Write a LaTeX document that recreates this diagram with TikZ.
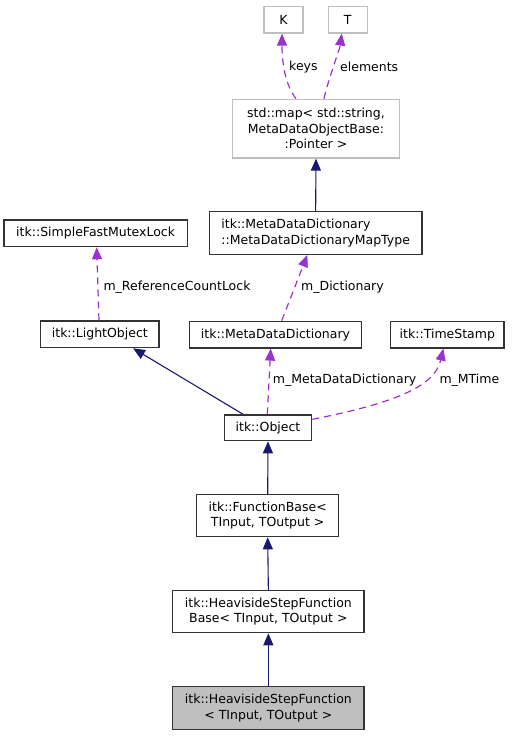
\documentclass[tikz,border=0pt]{standalone}
\usepackage{fontspec}
\setmainfont{DejaVu Sans}
\usetikzlibrary{arrows.meta}
\definecolor{midblue}{RGB}{25,25,112}
\definecolor{orchid}{RGB}{154,50,205}
\definecolor{gborder}{RGB}{191,191,191}
\begin{document}
\begin{tikzpicture}[x=1pt,y=-1pt,
  every node/.style={font=\fontsize{12.5}{15.5}\selectfont, inner sep=0pt},
  cls/.style={draw=black!80, line width=1.2pt, fill=white, align=center},
  ext/.style={draw=gborder, line width=1.2pt, fill=white, align=center},
  inh/.style={draw=midblue, line width=1.1pt, -{Triangle[length=12pt,width=10pt]}},
  use/.style={draw=orchid, line width=1.2pt, dash pattern=on 7pt off 5pt, -{Triangle[length=12pt,width=10pt]}},
  lbl/.style={anchor=west}]
\useasboundingbox (0,0) rectangle (515,736);
% nodes
\node[ext, minimum width=39pt, minimum height=26.5pt] (K) at (283.5,19.75) {K};
\node[ext, minimum width=39pt, minimum height=26.5pt] (T) at (347.8,19.75) {T};
\node[ext, minimum width=166.6pt, minimum height=58.7pt] (map) at (316,128.65) {std::map< std::string,\\ MetaDataObjectBase:\\:Pointer >};
\node[cls, align=left, minimum width=212.7pt, minimum height=42.6pt] (maptype) at (315.65,233) {itk::MetaDataDictionary\\::MetaDataDictionaryMapType};
\node[cls, minimum width=183.3pt, minimum height=26.7pt] (sfml) at (95.65,233.35) {itk::SimpleFastMutexLock};
\node[cls, minimum width=118.3pt, minimum height=26.7pt] (lo) at (99.85,334.35) {itk::LightObject};
\node[cls, minimum width=172.4pt, minimum height=26.7pt] (mdd) at (275.5,334.65) {itk::MetaDataDictionary};
\node[cls, minimum width=113.3pt, minimum height=26.7pt] (ts) at (447.35,334.65) {itk::TimeStamp};
\node[cls, minimum width=87.4pt, minimum height=25.7pt] (obj) at (268,427.85) {itk::Object};
\node[cls, minimum width=142pt, minimum height=42pt] (fb) at (267.7,515.7) {itk::FunctionBase<\\TInput, TOutput >};
\node[cls, minimum width=191.3pt, minimum height=42pt] (hsfb) at (268.35,611.7) {itk::HeavisideStepFunction\\Base< TInput, TOutput >};
\node[cls, fill=gborder, minimum width=191.3pt, minimum height=42.6pt] (hsf) at (268.35,708) {itk::HeavisideStepFunction\\< TInput, TOutput >};
% edges
\draw[use] ([xshift=-20pt]map.north) .. controls +(-13,-17) and +(0,22) .. ([xshift=-1.5pt]K.south);
\draw[use] ([xshift=8pt]map.north) .. controls +(3,-15) and +(-2,15) .. ([xshift=-6pt]T.south);
\draw[inh] (maptype.north) -- (map.south);
\draw[use] ([xshift=6.2pt]mdd.north) -- ([xshift=-8.3pt]maptype.south);
\draw[use] ([xshift=-0.85pt]lo.north) -- ([xshift=1pt]sfml.south);
\draw[inh] ([xshift=-24.7pt]obj.north) -- ([xshift=33.2pt]lo.south);
\draw[use] ([xshift=-0.7pt]obj.north) -- ([xshift=-4.8pt]mdd.south);
\draw[use] ([yshift=8.5pt]obj.east) .. controls (400,402) and (435,385) .. ([xshift=-4pt]ts.south);
\draw[inh] (fb.north) -- (obj.south);
\draw[inh] (hsfb.north) -- (fb.south);
\draw[inh] (hsf.north) -- (hsfb.south);
% labels
\node[lbl] (lkeys) at (289,66.7) {keys};
\node[lbl] (lelem) at (340,66.7) {elements};
\node[lbl] (ldict) at (301,287.3) {m\_Dictionary};
\node[lbl] (lrcl) at (103.3,287.3) {m\_ReferenceCountLock};
\node[lbl] (lmdd) at (272.7,380.7) {m\_MetaDataDictionary};
\node[lbl] (lmt) at (439.3,380.7) {m\_MTime};
\end{tikzpicture}
\end{document}
